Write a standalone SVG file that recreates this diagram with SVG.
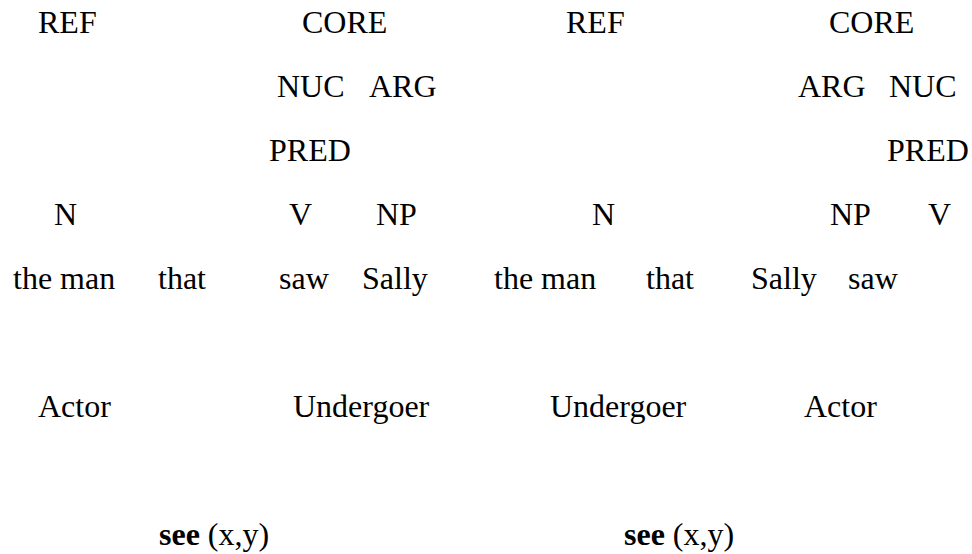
<svg xmlns="http://www.w3.org/2000/svg" width="972" height="554" viewBox="0 0 972 554">
  <style>
    .t { font-family: 'Liberation Serif', 'Times New Roman', Times, 'DejaVu Serif', serif; font-size: 32px; fill: #000; }
    .b { font-weight: bold; }
  </style>
  <rect width="972" height="554" fill="#fff"/>
  <!-- left tree: the man that saw Sally -->
  <g id="left" class="t" font-family="Liberation Serif, serif">
    <g id="l-ref"><text x="38" y="33">REF</text></g>
    <g id="l-core"><text x="302" y="33">CORE</text></g>
    <g id="l-nuc"><text x="277" y="97">NUC</text></g>
    <g id="l-arg"><text x="369" y="97">ARG</text></g>
    <g id="l-pred"><text x="269" y="161">PRED</text></g>
    <g id="l-n"><text x="54" y="225">N</text></g>
    <g id="l-v"><text x="289" y="225">V</text></g>
    <g id="l-np"><text x="376" y="225">NP</text></g>
    <g id="l-words">
      <text x="13" y="289">the man</text>
      <text x="158" y="289">that</text>
      <text x="279" y="289">saw</text>
      <text x="362" y="289">Sally</text>
    </g>
    <g id="l-actor"><text x="38" y="417">Actor</text></g>
    <g id="l-undergoer"><text x="293" y="417">Undergoer</text></g>
    <g id="l-see"><text x="159" y="545"><tspan class="b">see</tspan> (x,y)</text></g>
  </g>
  <!-- right tree: the man that Sally saw -->
  <g id="right" class="t" font-family="Liberation Serif, serif">
    <g id="r-ref"><text x="566" y="33">REF</text></g>
    <g id="r-core"><text x="829" y="33">CORE</text></g>
    <g id="r-arg"><text x="798" y="97">ARG</text></g>
    <g id="r-nuc"><text x="889" y="97">NUC</text></g>
    <g id="r-pred"><text x="887" y="161">PRED</text></g>
    <g id="r-n"><text x="592" y="225">N</text></g>
    <g id="r-np"><text x="830" y="225">NP</text></g>
    <g id="r-v"><text x="928" y="225">V</text></g>
    <g id="r-words">
      <text x="494" y="289">the man</text>
      <text x="646" y="289">that</text>
      <text x="751" y="289">Sally</text>
      <text x="848" y="289">saw</text>
    </g>
    <g id="r-undergoer"><text x="550" y="417">Undergoer</text></g>
    <g id="r-actor"><text x="804" y="417">Actor</text></g>
    <g id="r-see"><text x="624" y="545"><tspan class="b">see</tspan> (x,y)</text></g>
  </g>
</svg>
